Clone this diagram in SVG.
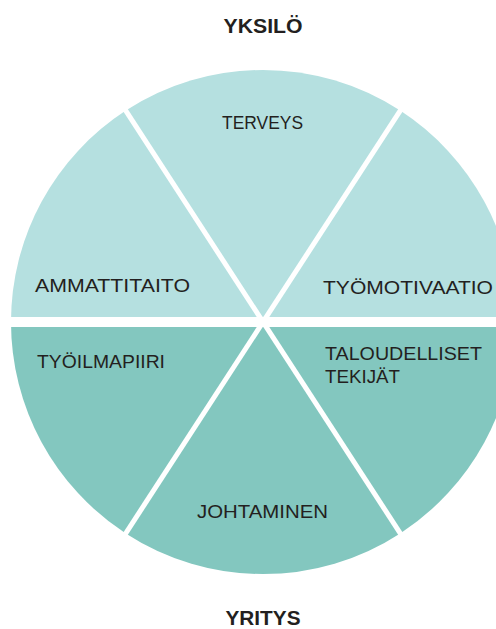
<svg xmlns="http://www.w3.org/2000/svg" width="496" height="629" viewBox="0 0 496 629">
<style>
.top{fill:#b5e0e0}
.bot{fill:#83c7bf}
.lbl{font-family:"Liberation Sans",Arial,sans-serif;font-size:18px;fill:#231f20}
.ttl{font-family:"Liberation Sans",Arial,sans-serif;font-size:20px;font-weight:bold;fill:#231f20;text-anchor:middle}
.sep{stroke:#ffffff;fill:none}
</style>
<rect width="496" height="629" fill="#ffffff"/>
<g id="terveys">
<path class="top" d="M263,322 L125.8,110.6 A252,252 0 0 1 400.2,110.6 Z"/>
<text class="lbl" x="222" y="129" textLength="81" lengthAdjust="spacingAndGlyphs">TERVEYS</text>
</g>
<g id="tyomotivaatio">
<path class="top" d="M263,322 L400.2,110.6 A252,252 0 0 1 515,322 Z"/>
<text class="lbl" x="323" y="294" textLength="170" lengthAdjust="spacingAndGlyphs">TYÖMOTIVAATIO</text>
</g>
<g id="ammattitaito">
<path class="top" d="M263,322 L11,322 A252,252 0 0 1 125.8,110.6 Z"/>
<text class="lbl" x="35" y="292" textLength="155" lengthAdjust="spacingAndGlyphs">AMMATTITAITO</text>
</g>
<g id="tyoilmapiiri">
<path class="bot" d="M263,322 L125.8,533.4 A252,252 0 0 1 11,322 Z"/>
<text class="lbl" x="37" y="368" textLength="128" lengthAdjust="spacingAndGlyphs">TYÖILMAPIIRI</text>
</g>
<g id="johtaminen">
<path class="bot" d="M263,322 L400.2,533.4 A252,252 0 0 1 125.8,533.4 Z"/>
<text class="lbl" x="197" y="518" textLength="131" lengthAdjust="spacingAndGlyphs">JOHTAMINEN</text>
</g>
<g id="taloudelliset-tekijat">
<path class="bot" d="M263,322 L515,322 A252,252 0 0 1 400.2,533.4 Z"/>
<text class="lbl" x="325" y="360" textLength="157" lengthAdjust="spacingAndGlyphs">TALOUDELLISET</text>
<text class="lbl" x="325" y="383" textLength="75" lengthAdjust="spacingAndGlyphs">TEKIJÄT</text>
</g>
<g id="connectors">
<line class="sep" x1="0" y1="322" x2="496" y2="322" stroke-width="10"/>
<line class="sep" x1="110.5" y1="87.2" x2="415.5" y2="556.8" stroke-width="5"/>
<line class="sep" x1="415.5" y1="87.2" x2="110.5" y2="556.8" stroke-width="5"/>
</g>
<g id="yksilo">
<text class="ttl" x="263" y="33" textLength="79" lengthAdjust="spacingAndGlyphs">YKSILÖ</text>
</g>
<g id="yritys">
<text class="ttl" x="263" y="625" textLength="75" lengthAdjust="spacingAndGlyphs">YRITYS</text>
</g>
</svg>
